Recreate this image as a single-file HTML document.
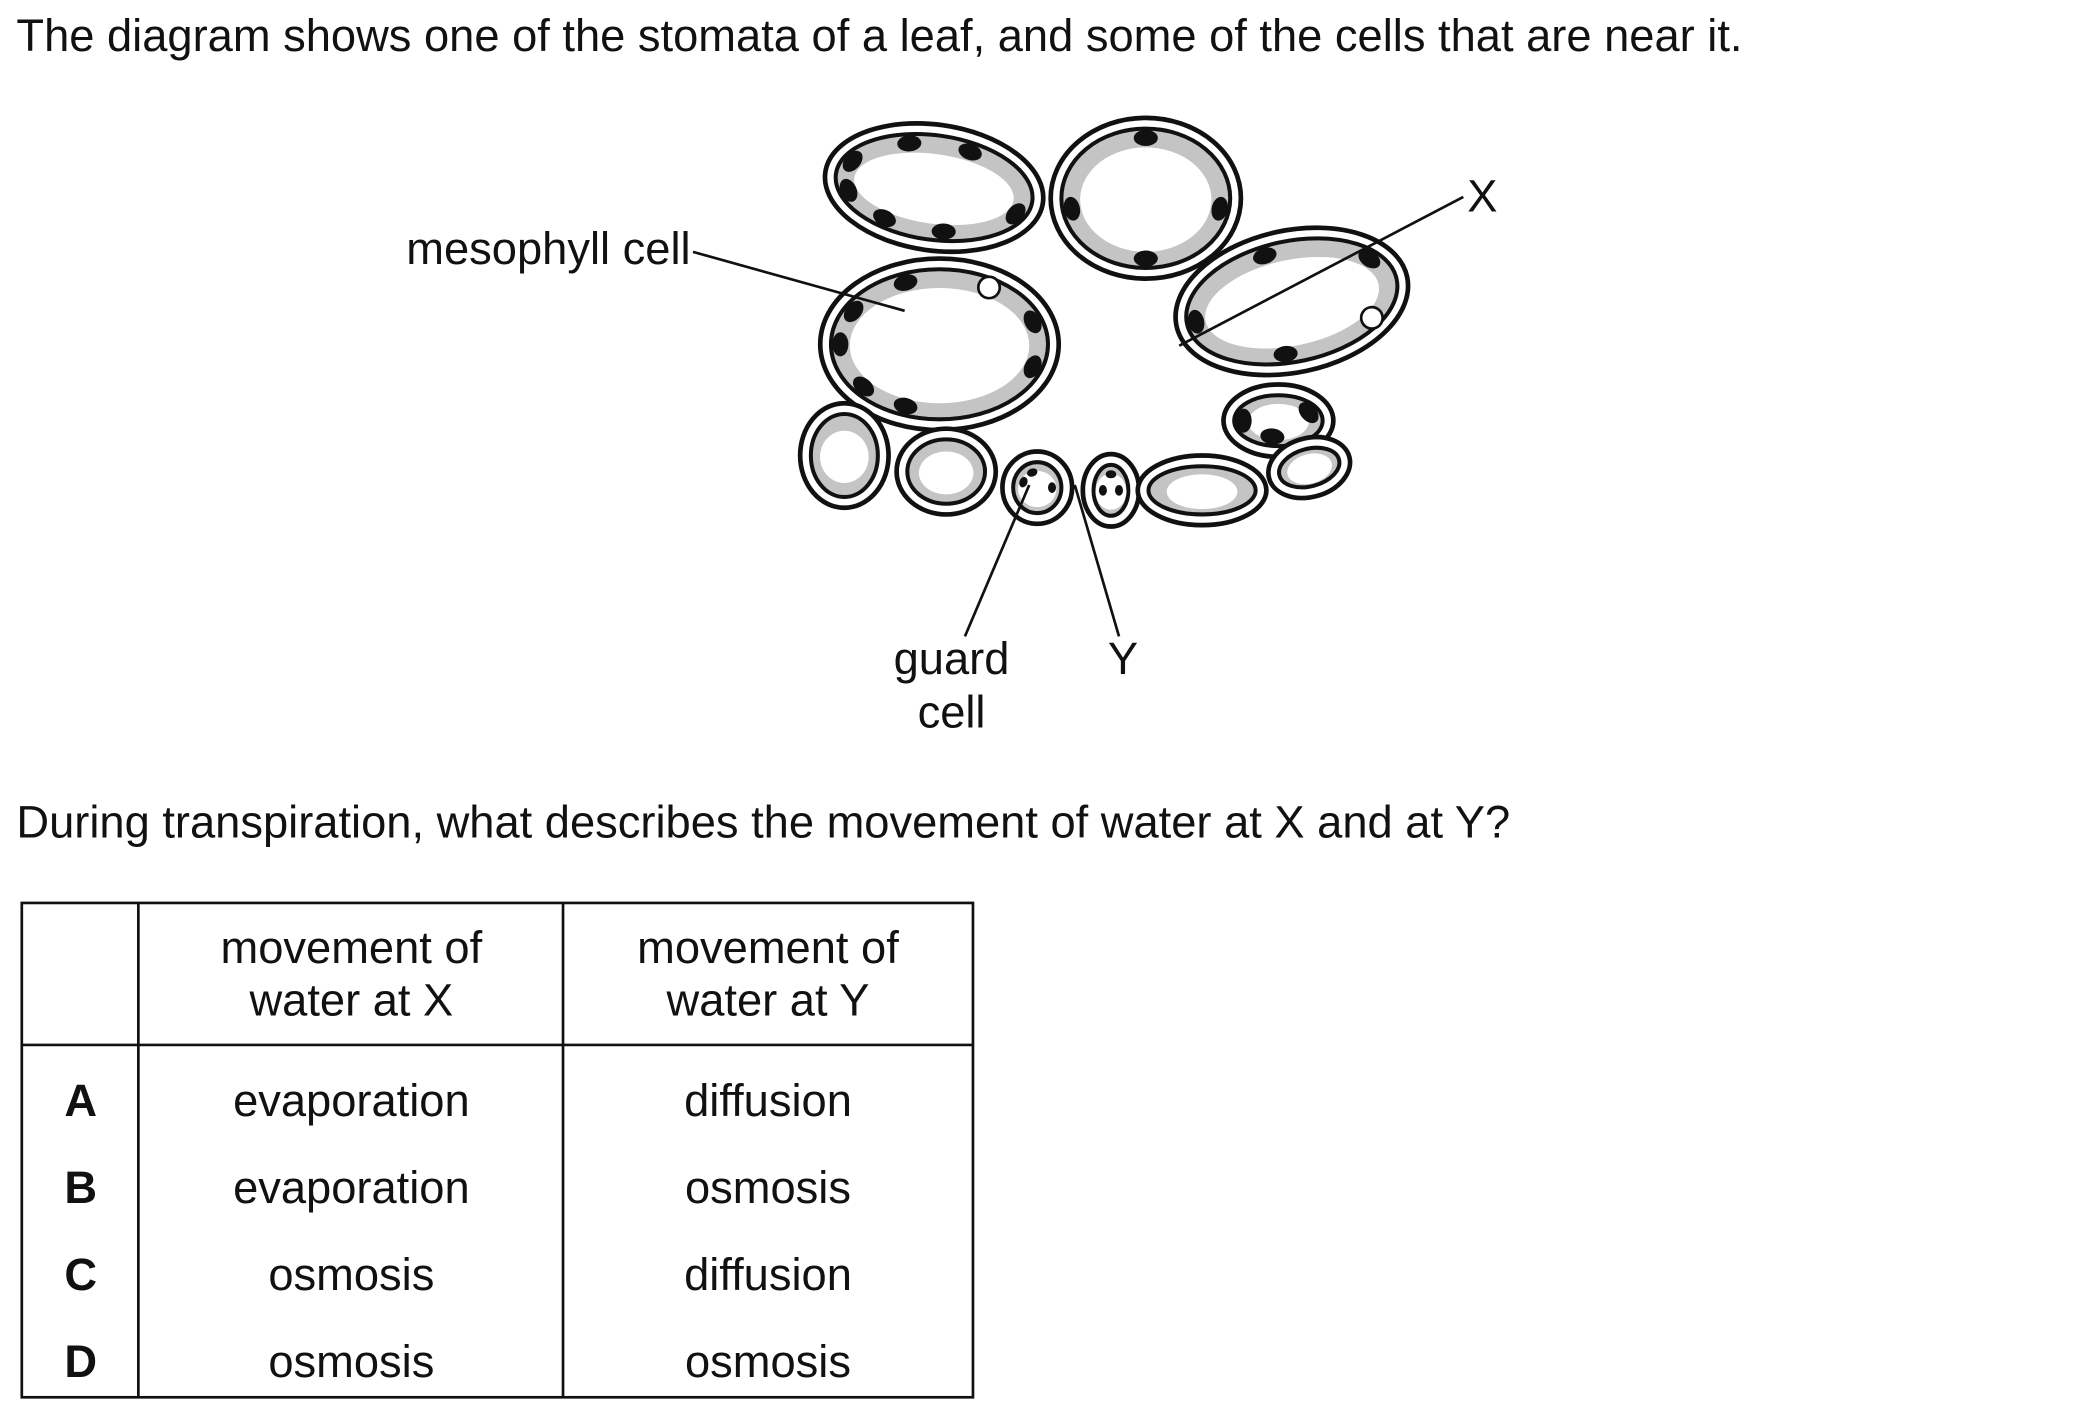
<!DOCTYPE html>
<html><head><meta charset="utf-8"><style>
html,body{margin:0;padding:0;background:#fff}
svg{display:block}
text{font-family:"Liberation Sans",Arial,sans-serif;fill:#111}
</style></head><body>
<svg width="2100" height="1408" viewBox="0 0 1567 1051" xmlns="http://www.w3.org/2000/svg">
<text x="12" y="38" font-size="33.8">The diagram shows one of the stomata of a leaf, and some of the cells that are near it.</text>
<g id="cells"></g>
<g stroke="#111" stroke-width="2" fill="none">
<line x1="517" y1="188" x2="675" y2="232"/>
<line x1="1092" y1="147" x2="880" y2="258"/>
<line x1="720" y1="475" x2="768" y2="362"/>
<line x1="835" y1="475" x2="802" y2="362"/>
</g>
<text x="303" y="197" font-size="33.8">mesophyll cell</text>
<text x="1095" y="158" font-size="33.8">X</text>
<text x="710" y="503" font-size="33.8" text-anchor="middle">guard</text>
<text x="710" y="543" font-size="33.8" text-anchor="middle">cell</text>
<text x="838" y="503" font-size="33.8" text-anchor="middle">Y</text>
<text x="12" y="625" font-size="33.8">During transpiration, what describes the movement of water at X and at Y?</text>
<g stroke="#111" stroke-width="2" fill="none">
<rect x="16" y="674" width="710" height="369"/>
<line x1="103" y1="674" x2="103" y2="1043"/>
<line x1="420" y1="674" x2="420" y2="1043"/>
<line x1="16" y1="780" x2="726" y2="780"/>
</g>
<g font-size="33.8" text-anchor="middle">
<text x="262" y="719">movement of</text>
<text x="262" y="758">water at X</text>
<text x="573" y="719">movement of</text>
<text x="573" y="758">water at Y</text>
<text x="60" y="833" font-weight="bold">A</text>
<text x="262" y="833">evaporation</text><text x="573" y="833">diffusion</text>
<text x="60" y="898" font-weight="bold">B</text>
<text x="262" y="898">evaporation</text><text x="573" y="898">osmosis</text>
<text x="60" y="963" font-weight="bold">C</text>
<text x="262" y="963">osmosis</text><text x="573" y="963">diffusion</text>
<text x="60" y="1028" font-weight="bold">D</text>
<text x="262" y="1028">osmosis</text><text x="573" y="1028">osmosis</text>
</g>
</svg>
<script>
// cells: cx, cy, rx, ry, rotation, chloroplast angles, vacuole-dot angle
const cells=[
 [697,140,82,47,8,[200,250,290,20,80,120,160],null,'top-left-cell'],
 [855,148,71,60,0,[270,170,10,90],null,'top-middle-cell'],
 [701,257,89,64,0,[250,210,340,20,110,140,180],300,'mesophyll-cell'],
 [964,225,88,53,-12,[260,330,180,100],40,'right-cell'],
 [954,314,41,27,0,[330,180,100],null,'small-right-cell'],
 [630,340,33,39,0,[],null,'bottom-cell-1'],
 [706,352,37,32,0,[],null,'bottom-cell-2'],
 [774,364,26,27,0,[250,200,0],null,'guard-cell-left'],
 [829,366,21,27,0,[270,180,0],null,'guard-cell-right'],
 [897,366,48,26,0,[],null,'bottom-cell-3'],
 [977,349,31,22,-15,[],null,'bottom-cell-4']
];
const g=document.getElementById('cells');
const NS='http://www.w3.org/2000/svg';
function el(t,a){const e=document.createElementNS(NS,t);for(const k in a)e.setAttribute(k,a[k]);return e;}
cells.forEach(c=>{
 const [cx,cy,rx,ry,rot,chl,vac,name]=c;
 const grp=el('g',{transform:`rotate(${rot} ${cx} ${cy})`});
 
 
 grp.appendChild(el('ellipse',{cx,cy,rx,ry,fill:'#fff',stroke:'#111','stroke-width':3.5}));
 grp.appendChild(el('ellipse',{cx,cy,rx:rx-8,ry:ry-8,fill:'#c4c4c4',stroke:'#111','stroke-width':3}));
 grp.appendChild(el('ellipse',{cx,cy:cy+1,rx:Math.max(rx-22,rx*0.55),ry:Math.max(ry-21,ry*0.5),fill:'#fff'}));
 chl.forEach(a=>{
  const r=a*Math.PI/180, px=cx+(rx-15)*Math.cos(r), py=cy+(ry-15)*Math.sin(r);
  const ang=Math.atan2((ry)*Math.cos(r),-(rx)*Math.sin(r))*180/Math.PI;
  grp.appendChild(el('ellipse',{cx:px,cy:py,rx:rx>40?9:4,ry:rx>40?6:3,fill:'#111',transform:`rotate(${ang} ${px} ${py})`}));
 });
 if(vac!==null){
  const r=vac*Math.PI/180, px=cx+(rx-15)*Math.cos(r), py=cy+(ry-15)*Math.sin(r);
  grp.appendChild(el('circle',{cx:px,cy:py,r:8,fill:'#fff',stroke:'#111','stroke-width':2}));
 }
 g.appendChild(grp);
});
</script>
</body></html>
